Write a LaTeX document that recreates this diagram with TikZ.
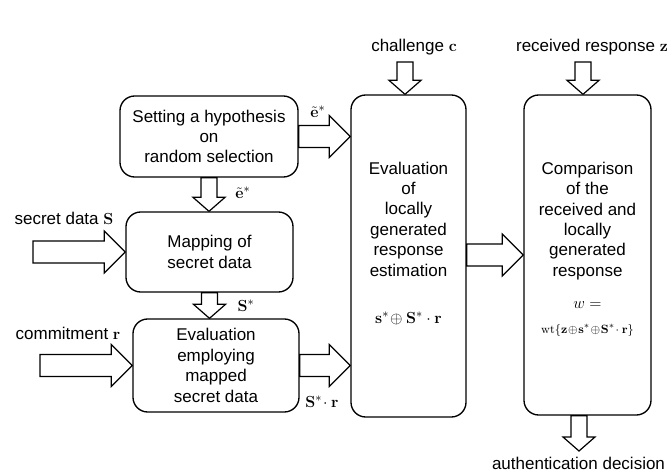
\documentclass[tikz,border=0pt]{standalone}
\usepackage[no-math]{fontspec}
\setmainfont{Liberation Sans}
\usetikzlibrary{calc}
\newcommand{\rblock}[2]{\draw[blk] let \p1=(#1), \p2=(#2) in
  (\x1,{\y2+8.25pt}) -- ({\x2-15.75pt},{\y2+8.25pt}) -- ({\x2-15.75pt},{\y2+15.75pt}) -- (\x2,\y2)
  -- ({\x2-15.75pt},{\y2-15.75pt}) -- ({\x2-15.75pt},{\y2-8.25pt}) -- (\x1,{\y2-8.25pt}) -- cycle;}
\newcommand{\dblock}[2]{\draw[blk] let \p1=(#1), \p2=(#2) in
  ({\x2-6pt},\y1) -- ({\x2-6pt},{\y2+10.5pt}) -- ({\x2-12pt},{\y2+10.5pt}) -- (\x2,\y2)
  -- ({\x2+12pt},{\y2+10.5pt}) -- ({\x2+6pt},{\y2+10.5pt}) -- ({\x2+6pt},\y1) -- cycle;}
\begin{document}
\begin{tikzpicture}[x=0.75pt, y=-0.75pt, line width=1pt,
    box/.style={draw, rounded corners=11pt, align=center, inner sep=0pt},
    txt/.style={align=center, font=\fontsize{12.75}{15.3}\selectfont},
    blk/.style={draw, fill=white, line width=0.9pt, line join=miter}]
  \useasboundingbox (0,0) rectangle (672,474);
  \node[box, txt, minimum width=133.5pt, minimum height=60.75pt] (hyp) at (209,136.5) {Setting a hypothesis\\on\\random selection};
  \node[box, txt, minimum width=125.25pt, minimum height=60pt] (map) at (209.5,252) {Mapping of\\secret data};
  \node[box, txt, minimum width=124.5pt, minimum height=69.75pt] (emp) at (216,365.5) {Evaluation\\employing\\mapped\\secret data};
  \node[box, minimum width=86.25pt, minimum height=241.5pt] (est) at (408.5,256) {};
  \node[box, minimum width=95.25pt, minimum height=240pt] (cmp) at (587.5,255) {};
  \node[txt] (esttxt) at (408.5,219) {Evaluation\\of\\locally\\generated\\response\\estimation};
  \node[txt] (estmath) at (408.5,318) {$\mathbf{s}^*\!\oplus\mathbf{S}^*\cdot\mathbf{r}$};
  \node[txt] (cmptxt) at (587.5,221) {Comparison\\of the\\received and\\locally\\generated\\response};
  \node[txt] (wlbl) at (587.5,305) {$w=$};
  \node[font=\fontsize{9.5}{11}\selectfont] (wtlbl) at (587.5,330) {$\mathrm{wt}\{\mathbf{z}\!\oplus\!\mathbf{s}^*\!\oplus\!\mathbf{S}^*\!\cdot\mathbf{r}\}$};
  \coordinate (sin) at (33,253);
  \coordinate (rin) at (40,368);
  \coordinate (cin) at (405,62);
  \coordinate (zin) at (583,62);
  \coordinate (dec) at (579,451);
  \node[txt] (slbl) at (64,218) {secret data $\mathbf{S}$};
  \node[txt] (rlbl) at (68,333) {commitment $\mathbf{r}$};
  \node[txt] (clbl) at (414,47) {challenge $\mathbf{c}$};
  \node[txt, anchor=west] (zlbl) at (511,47) {received response $\mathbf{z}$};
  \node[txt] (dlbl) at (578.5,463) {authentication decision};
  \node[txt] (e1lbl) at (318,112) {$\tilde{\mathbf{e}}^*$};
  \node[txt] (e2lbl) at (243,193) {$\tilde{\mathbf{e}}^*$};
  \node[txt] (Slbl) at (246,306) {$\mathbf{S}^*$};
  \node[txt] (Srlbl) at (322,402) {$\mathbf{S}^*\!\cdot\mathbf{r}$};
  \rblock{hyp.east}{est.west |- hyp.east}
  \rblock{emp.east}{est.west |- emp.east}
  \rblock{est.east |- cmp.west}{cmp.west}
  \rblock{sin}{map.west}
  \rblock{rin}{emp.west}
  \dblock{hyp.south}{hyp.south |- map.north}
  \dblock{map.south}{map.south |- emp.north}
  \dblock{cin}{cin |- est.north}
  \dblock{zin}{zin |- cmp.north}
  \dblock{dec |- cmp.south}{dec}
\end{tikzpicture}
\end{document}
